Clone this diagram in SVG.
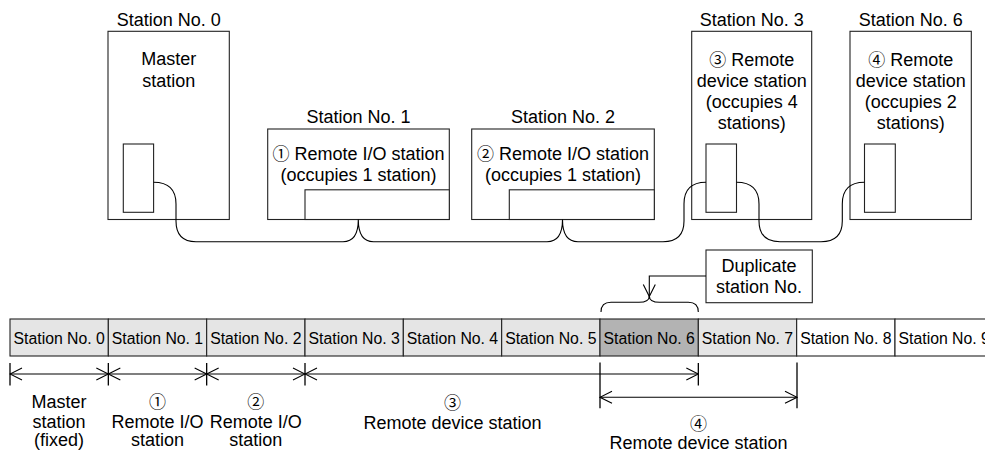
<svg xmlns="http://www.w3.org/2000/svg" width="985" height="452" viewBox="0 0 985 452">
<style>
text{font-family:"Liberation Sans","DejaVu Sans",Arial,sans-serif;fill:#000;text-anchor:middle}
.t{font-size:18px}
.b{font-size:15.8px}
.c{font-family:"Noto Sans CJK JP","DejaVu Sans",sans-serif;font-size:17px}
.box{fill:#fff;stroke:#222;stroke-width:1.1}
.cab{fill:none;stroke:#000;stroke-width:1.1}
.cell{stroke:#222;stroke-width:1.1}
.lt{fill:#e5e5e5}
.dk{fill:#b3b3b3}
.wh{fill:#fff}
.dim{fill:none;stroke:#000;stroke-width:1.1}
.tick{stroke:#000;stroke-width:1.3}
</style>
<defs>
<marker id="ah" viewBox="-13 -7 14 14" refX="0" refY="0" markerWidth="14" markerHeight="14" markerUnits="userSpaceOnUse" orient="auto-start-reverse">
<path d="M-12,-6 L0,0 L-12,6" fill="none" stroke="#000" stroke-width="1.1"/>
</marker>
</defs>

<g id="station0">
<rect class="box" x="108" y="31.3" width="121.3" height="188.2"/>
<rect class="box" x="123.3" y="144" width="30.3" height="68.3"/>
<text class="t" x="168.7" y="26">Station No. 0</text>
<text class="t" x="168.7" y="65">Master</text>
<text class="t" x="168.7" y="86.5">station</text>
</g>

<g id="station1">
<rect class="box" x="267.7" y="129" width="181.6" height="90.5"/>
<rect class="box" x="305" y="189.8" width="144.3" height="29.7"/>
<text class="t" x="358.5" y="122.5">Station No. 1</text>
<text class="t" x="358.5" y="159.5"><tspan class="c">①</tspan> Remote I/O station</text>
<text class="t" x="358.5" y="180.5">(occupies 1 station)</text>
</g>

<g id="station2">
<rect class="box" x="471.7" y="129" width="182.6" height="90.5"/>
<rect class="box" x="509.3" y="189.8" width="145" height="29.7"/>
<text class="t" x="563" y="122.5">Station No. 2</text>
<text class="t" x="563" y="159.5"><tspan class="c">②</tspan> Remote I/O station</text>
<text class="t" x="563" y="180.5">(occupies 1 station)</text>
</g>

<g id="station3">
<rect class="box" x="691.7" y="31.3" width="120" height="188.2"/>
<rect class="box" x="706" y="144" width="30.5" height="68.3"/>
<text class="t" x="751.7" y="26">Station No. 3</text>
<text class="t" x="751.7" y="65.5"><tspan class="c">③</tspan> Remote</text>
<text class="t" x="751.7" y="86.5">device station</text>
<text class="t" x="751.7" y="107.5">(occupies 4</text>
<text class="t" x="751.7" y="128.5">stations)</text>
</g>

<g id="station6">
<rect class="box" x="850" y="31.3" width="121.3" height="188.2"/>
<rect class="box" x="864.5" y="144" width="30.8" height="68.3"/>
<text class="t" x="910.7" y="26">Station No. 6</text>
<text class="t" x="910.7" y="65.5"><tspan class="c">④</tspan> Remote</text>
<text class="t" x="910.7" y="86.5">device station</text>
<text class="t" x="910.7" y="107.5">(occupies 2</text>
<text class="t" x="910.7" y="128.5">stations)</text>
</g>

<g id="connectors">
<path class="cab" d="M153.6,182.3 Q176,182.3 176,204 L176,221 Q176,241.7 196,241.7 L343,241.7 Q358.3,241.7 358.3,219.5 Q358.3,241.7 373.5,241.7 L547,241.7 Q562.5,241.7 562.5,219.5 Q562.5,241.7 578,241.7 L663,241.7 Q684,241.7 684,221 L684,204 Q684,182.3 706,182.3"/>
<path class="cab" d="M736.5,182.3 Q759,182.3 759,204 L759,221 Q759,241.7 780,241.7 L821,241.7 Q842.3,241.7 842.3,221 L842.3,204 Q842.3,182.3 864.5,182.3"/>
</g>

<g id="station-bar">
<rect class="cell lt" x="10" y="319" width="98.33" height="37"/>
<rect class="cell lt" x="108.33" y="319" width="98.33" height="37"/>
<rect class="cell lt" x="206.67" y="319" width="98.33" height="37"/>
<rect class="cell lt" x="305" y="319" width="98.33" height="37"/>
<rect class="cell lt" x="403.33" y="319" width="98.33" height="37"/>
<rect class="cell lt" x="501.67" y="319" width="98.33" height="37"/>
<rect class="cell dk" x="600" y="319" width="98.33" height="37"/>
<rect class="cell lt" x="698.33" y="319" width="98.33" height="37"/>
<rect class="cell wh" x="796.67" y="319" width="98.33" height="37"/>
<rect class="cell wh" x="895" y="319" width="98.33" height="37"/>
<text class="b" x="59.2" y="343.5">Station No. 0</text>
<text class="b" x="157.5" y="343.5">Station No. 1</text>
<text class="b" x="255.8" y="343.5">Station No. 2</text>
<text class="b" x="354.2" y="343.5">Station No. 3</text>
<text class="b" x="452.5" y="343.5">Station No. 4</text>
<text class="b" x="550.8" y="343.5">Station No. 5</text>
<text class="b" x="649.2" y="343.5">Station No. 6</text>
<text class="b" x="747.5" y="343.5">Station No. 7</text>
<text class="b" x="845.8" y="343.5">Station No. 8</text>
<text class="b" x="944.2" y="343.5">Station No. 9</text>
</g>

<g id="duplicate-note">
<rect class="box" x="706" y="250" width="106.3" height="52.7"/>
<text class="t" x="759" y="271.7">Duplicate</text>
<text class="t" x="759" y="293.3">station No.</text>
<path class="dim" d="M706,276 L649.3,276 L649.3,296.5" marker-end="url(#ah)"/>
<path class="dim" d="M601,312 Q601,302.3 611,302.3 L639,302.3 Q649.3,302.3 649.3,296 Q649.3,302.3 659.6,302.3 L688.3,302.3 Q698.3,302.3 698.3,312"/>
</g>

<g id="dimensions">
<line class="tick" x1="10" y1="363" x2="10" y2="385.5"/>
<line class="tick" x1="108.33" y1="363" x2="108.33" y2="385.5"/>
<line class="tick" x1="206.67" y1="363" x2="206.67" y2="385.5"/>
<line class="tick" x1="305" y1="363" x2="305" y2="385.5"/>
<line class="tick" x1="698.33" y1="363" x2="698.33" y2="385.5"/>
<line class="tick" x1="600" y1="362.5" x2="600" y2="408.3"/>
<line class="tick" x1="797" y1="362.5" x2="797" y2="408.3"/>
<line class="dim" x1="10" y1="374" x2="108.33" y2="374" marker-start="url(#ah)" marker-end="url(#ah)"/>
<line class="dim" x1="108.33" y1="374" x2="206.67" y2="374" marker-start="url(#ah)" marker-end="url(#ah)"/>
<line class="dim" x1="206.67" y1="374" x2="305" y2="374" marker-start="url(#ah)" marker-end="url(#ah)"/>
<line class="dim" x1="305" y1="374" x2="698.33" y2="374" marker-start="url(#ah)" marker-end="url(#ah)"/>
<line class="dim" x1="600" y1="397.3" x2="797" y2="397.3" marker-start="url(#ah)" marker-end="url(#ah)"/>
</g>

<g id="range-labels">
<text class="t" x="59" y="408">Master</text>
<text class="t" x="59" y="427.5">station</text>
<text class="t" x="59" y="446">(fixed)</text>
<text class="t" x="157.5" y="408"><tspan class="c">①</tspan></text>
<text class="t" x="157.5" y="427.5">Remote I/O</text>
<text class="t" x="157.5" y="446">station</text>
<text class="t" x="255.8" y="408"><tspan class="c">②</tspan></text>
<text class="t" x="255.8" y="427.5">Remote I/O</text>
<text class="t" x="255.8" y="446">station</text>
<text class="t" x="452.5" y="409"><tspan class="c">③</tspan></text>
<text class="t" x="452.5" y="428.5">Remote device station</text>
<text class="t" x="698.5" y="429.5"><tspan class="c">④</tspan></text>
<text class="t" x="698.5" y="449">Remote device station</text>
</g>
</svg>
